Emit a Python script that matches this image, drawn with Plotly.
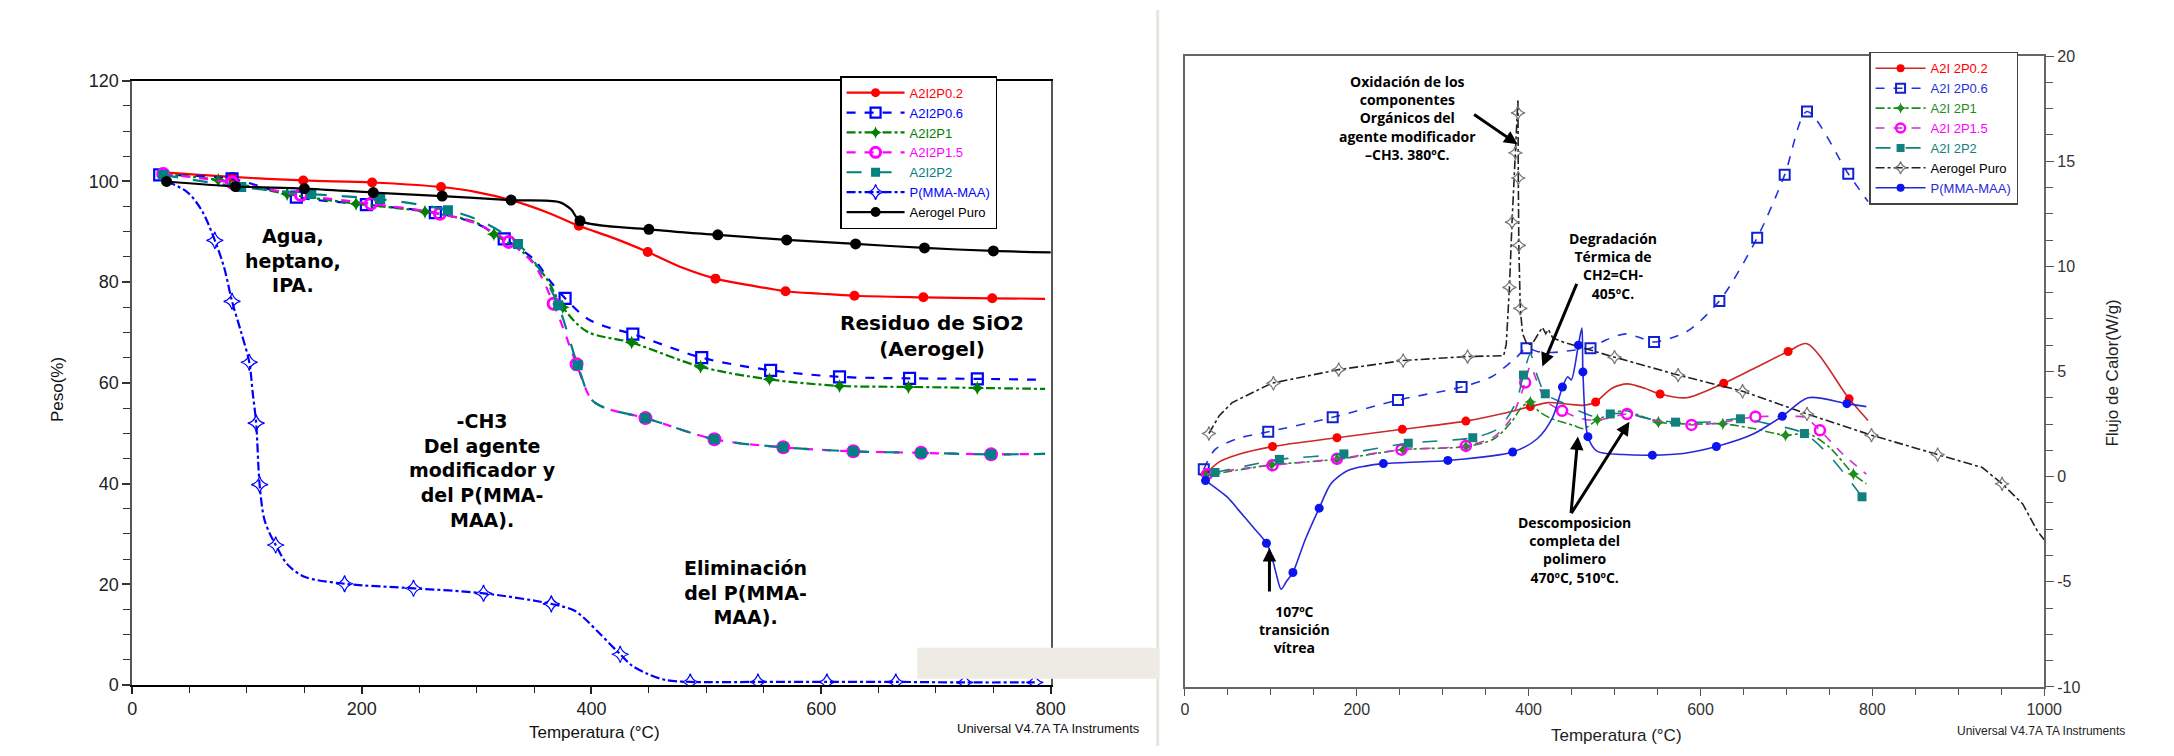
import plotly.graph_objects as go

W, H = 2174, 756

# ======================= TGA (left panel) data =======================
tga_names = ["A2I2P0.2", "A2I2P0.6", "A2I2P1", "A2I2P1.5", "A2I2P2", "P(MMA-MAA)", "Aerogel Puro"]

tga_p02_T = [27, 87, 149, 209, 269, 300, 330, 360, 389, 420, 449, 480, 508, 540, 569, 600, 629, 689, 749, 795]
tga_p02_W = [101.8, 100.9, 100.2, 99.8, 98.9, 97.9, 96.3, 94.0, 91.2, 88.7, 86.0, 82.8, 80.7, 79.3, 78.2, 77.7, 77.3, 77.0, 76.8, 76.7]
tga_p02_mT = [27, 87, 149, 209, 269, 330, 389, 449, 508, 569, 629, 689, 749]
tga_p02_mW = [101.8, 100.9, 100.2, 99.8, 98.9, 96.3, 91.2, 86.0, 80.7, 78.2, 77.3, 77.0, 76.8]

tga_p06_T = [24, 87, 143, 204, 264, 300, 324, 350, 363, 377, 396, 412, 436, 496, 556, 616, 677, 736, 795]
tga_p06_W = [101.3, 100.5, 96.9, 95.4, 93.8, 91.6, 88.6, 84.5, 80.5, 76.8, 72.8, 71.2, 69.7, 65.0, 62.5, 61.2, 60.9, 60.8, 60.6]
tga_p06_mT = [24, 87, 143, 204, 264, 324, 377, 436, 496, 556, 616, 677, 736]
tga_p06_mW = [101.3, 100.5, 96.9, 95.4, 93.8, 88.6, 76.8, 69.7, 65.0, 62.5, 61.2, 60.9, 60.8]

tga_p1_T = [27, 75, 135, 195, 255, 300, 315, 340, 360, 375, 396, 435, 495, 555, 616, 676, 736, 795]
tga_p1_W = [101.5, 100.3, 97.5, 95.6, 94.0, 91.8, 89.5, 86.0, 81.0, 75.0, 70.2, 68.0, 63.2, 60.7, 59.4, 59.2, 59.0, 58.8]
tga_p1_mT = [75, 135, 195, 255, 315, 375, 435, 495, 555, 616, 676, 736]
tga_p1_mW = [100.3, 97.5, 95.6, 94.0, 89.5, 75.0, 68.0, 63.2, 60.7, 59.4, 59.2, 59.0]

tga_p15_T = [27, 87, 147, 208, 268, 300, 328, 350, 367, 387, 400, 412, 447, 507, 567, 628, 687, 748, 795]
tga_p15_W = [101.5, 99.8, 97.3, 95.6, 93.6, 91.6, 88.0, 83.5, 75.7, 63.7, 56.7, 55.0, 53.0, 48.8, 47.2, 46.4, 46.1, 45.8, 45.9]
tga_p15_mT = [27, 87, 147, 208, 268, 328, 367, 387, 447, 507, 567, 628, 687, 748]
tga_p15_mW = [101.5, 99.8, 97.3, 95.6, 93.6, 88.0, 75.7, 63.7, 53.0, 48.8, 47.2, 46.4, 46.1, 45.8]

tga_p2_T = [27, 95, 156, 216, 275, 305, 336, 355, 371, 388, 400, 412, 447, 507, 567, 628, 687, 748, 795]
tga_p2_W = [101.3, 98.9, 97.5, 96.5, 94.3, 92.0, 87.6, 82.5, 75.4, 63.5, 56.7, 55.0, 53.0, 48.8, 47.2, 46.4, 46.1, 45.8, 45.9]
tga_p2_mT = [27, 95, 156, 216, 275, 336, 371, 388, 447, 507, 567, 628, 687, 748]
tga_p2_mW = [101.3, 98.9, 97.5, 96.5, 94.3, 87.6, 75.4, 63.5, 53.0, 48.8, 47.2, 46.4, 46.1, 45.8]

tga_pm_T = [30, 48, 61, 72, 80, 87, 95, 102, 105, 108, 111, 115, 120, 125, 135, 150, 185, 245, 306, 365, 385, 394, 405, 418, 425, 435, 449, 464, 486, 545, 605, 665, 725, 786]
tga_pm_W = [100.0, 97.9, 94.1, 88.3, 83.0, 76.2, 70.0, 64.1, 58.0, 52.0, 39.8, 33.0, 30.0, 27.8, 24.0, 21.5, 20.1, 19.2, 18.2, 16.1, 14.8, 13.2, 10.7, 7.7, 6.1, 3.9, 2.2, 1.0, 0.6, 0.6, 0.6, 0.6, 0.5, 0.5]
tga_pm_mT = [72, 87, 102, 108, 111, 125, 185, 245, 306, 365, 425, 486, 545, 605, 665, 725, 786]
tga_pm_mW = [88.3, 76.2, 64.1, 52.0, 39.8, 27.8, 20.1, 19.2, 18.2, 16.1, 6.1, 0.6, 0.6, 0.6, 0.6, 0.5, 0.5]

tga_ae_T = [30, 90, 150, 210, 270, 330, 372, 382, 390, 450, 510, 570, 630, 690, 750, 800]
tga_ae_W = [100.0, 99.0, 98.6, 97.8, 97.1, 96.3, 95.9, 94.5, 92.2, 90.5, 89.4, 88.4, 87.6, 86.8, 86.2, 85.9]
tga_ae_mT = [30, 90, 150, 210, 270, 330, 390, 450, 510, 570, 630, 690, 750]
tga_ae_mW = [100.0, 99.0, 98.6, 97.8, 97.1, 96.3, 92.2, 90.5, 89.4, 88.4, 87.6, 86.8, 86.2]

# ======================= DSC (right panel) data =======================
dsc_names = ["A2I 2P0.2", "A2I 2P0.6", "A2I 2P1", "A2I 2P1.5", "A2I 2P2", "Aerogel Puro", "P(MMA-MAA)"]

dsc_p02_T = [24, 40, 62, 102, 177, 253, 327, 370, 402, 423, 445, 465, 478, 497, 515, 535, 553, 584, 627, 665, 702, 724, 773, 795]
dsc_p02_F = [0.12, 0.7, 1.05, 1.43, 1.85, 2.25, 2.64, 3.0, 3.33, 3.52, 3.45, 3.39, 3.55, 4.2, 4.41, 4.2, 3.93, 3.75, 4.44, 5.2, 5.95, 6.32, 3.70, 2.67]
dsc_p02_mT = [24, 102, 177, 253, 327, 402, 478, 553, 627, 702, 773]
dsc_p02_mF = [0.12, 1.43, 1.85, 2.25, 2.64, 3.33, 3.55, 3.93, 4.44, 5.95, 3.70]

dsc_p06_T = [22, 35, 62, 97, 172, 248, 322, 357, 386, 397.5, 410, 427, 450, 472, 490, 513, 530, 546, 584, 622, 666, 698, 724, 772, 795]
dsc_p06_F = [0.35, 1.28, 1.82, 2.13, 2.82, 3.64, 4.26, 4.75, 5.68, 6.11, 5.95, 5.9, 6.0, 6.11, 6.5, 6.79, 6.6, 6.4, 6.9, 8.35, 11.36, 14.35, 17.36, 14.4, 13.08]
dsc_p06_mT = [22, 97, 172, 248, 322, 397.5, 472, 546, 622, 666, 698, 724, 772]
dsc_p06_mF = [0.35, 2.13, 2.82, 3.64, 4.26, 6.11, 6.11, 6.40, 8.35, 11.36, 14.35, 17.36, 14.4]

dsc_p1_T = [24, 60, 101, 177, 254, 327, 360, 380, 392, 402, 412, 427, 452, 464, 480, 500, 513, 530, 551, 590, 626, 660, 699, 725, 750, 778, 793]
dsc_p1_F = [0.05, 0.3, 0.56, 0.82, 1.28, 1.43, 1.8, 2.6, 3.3, 3.55, 3.1, 2.75, 2.44, 2.28, 2.7, 3.05, 3.13, 2.9, 2.59, 2.5, 2.51, 2.3, 1.97, 2.05, 1.4, 0.12, -0.34]
dsc_p1_mT = [24, 101, 177, 254, 327, 402, 480, 551, 626, 699, 778]
dsc_p1_mF = [0.05, 0.56, 0.82, 1.28, 1.43, 3.55, 2.7, 2.59, 2.51, 1.97, 0.12]

dsc_p15_T = [26, 60, 102, 177, 252, 327, 360, 380, 392, 396, 402, 410, 420, 439, 458, 476, 495, 514.5, 540, 565, 589.5, 620, 664, 700, 721.5, 739, 765, 793]
dsc_p15_F = [0.12, 0.35, 0.54, 0.85, 1.28, 1.46, 1.9, 2.8, 4.0, 4.47, 5.25, 4.5, 3.6, 3.13, 2.8, 2.67, 2.8, 2.98, 2.75, 2.55, 2.46, 2.55, 2.85, 2.85, 2.82, 2.2, 1.1, 0.12]
dsc_p15_mT = [26, 102, 177, 252, 327, 396, 439, 514.5, 589.5, 664, 739]
dsc_p15_mF = [0.12, 0.54, 0.85, 1.28, 1.46, 4.47, 3.13, 2.98, 2.46, 2.85, 2.2]

dsc_p2_T = [35, 70, 110, 185, 260, 335, 365, 385, 394, 402, 410, 419.4, 440, 460, 478, 495, 515, 540, 571, 610, 646.5, 680, 721, 750, 788]
dsc_p2_F = [0.2, 0.5, 0.82, 1.08, 1.59, 1.85, 2.3, 3.5, 4.83, 5.83, 4.8, 3.94, 3.5, 3.1, 2.85, 2.98, 3.0, 2.75, 2.59, 2.6, 2.75, 2.5, 2.05, 1.0, -0.96]
dsc_p2_mT = [35, 110, 185, 260, 335, 394, 419.4, 495, 571, 646.5, 721, 788]
dsc_p2_mF = [0.2, 0.82, 1.08, 1.59, 1.85, 4.83, 3.94, 2.98, 2.59, 2.75, 2.05, -0.96]

dsc_ae_T = [28, 40, 55, 101, 179, 254, 328, 371, 374, 377.7, 380.7, 384.6, 387.6, 388.0, 388.6, 390.3, 393, 398, 404, 410, 416, 420, 423, 428, 440, 500, 574, 649, 724, 799, 876, 928, 951, 975, 992, 1000]
dsc_ae_F = [2.05, 2.9, 3.52, 4.44, 5.09, 5.52, 5.71, 5.75, 6.3, 9.0, 12.1, 15.4, 17.95, 14.2, 11.0, 8.0, 6.8, 6.3, 6.3, 6.7, 7.1, 6.8, 7.0, 6.6, 6.4, 5.68, 4.83, 4.06, 2.98, 1.97, 1.05, 0.43, -0.34, -1.3, -2.58, -3.0]
dsc_ae_mT = [28, 103, 179, 254, 329, 377.7, 380.7, 384.6, 387.7, 388.0, 388.6, 390.3, 500, 574, 649, 724, 799, 876, 951]
dsc_ae_mF = [2.05, 4.44, 5.09, 5.52, 5.71, 9.0, 12.1, 15.4, 17.3, 14.2, 11.0, 8.0, 5.68, 4.83, 4.06, 2.98, 1.97, 1.05, -0.34]

dsc_pm_T = [24, 50, 62, 81.5, 95, 100.7, 106.5, 112, 118, 125.7, 140, 156.3, 170, 189, 210, 231, 306, 381.5, 410, 428, 439.4, 445.5, 449.6, 457.9, 462, 463.2, 469, 480, 510, 544, 580, 618.5, 660, 695.2, 725.3, 770.4, 793]
dsc_pm_F = [-0.19, -1.0, -1.57, -2.5, -3.17, -3.74, -4.66, -5.36, -5.0, -4.56, -3.0, -1.5, -0.34, 0.28, 0.5, 0.62, 0.77, 1.17, 1.8, 2.82, 4.26, 4.75, 4.6, 6.25, 7.07, 4.98, 1.9, 1.2, 1.05, 1.02, 1.1, 1.43, 2.0, 2.87, 3.75, 3.47, 3.33]
dsc_pm_mT = [24, 94.9, 125.7, 156.3, 231, 306, 381.5, 439.4, 457.9, 463.2, 469, 544, 618.5, 695.2, 770.4]
dsc_pm_mF = [-0.19, -3.17, -4.56, -1.5, 0.62, 0.77, 1.17, 4.26, 6.25, 4.98, 1.9, 1.02, 1.43, 2.87, 3.47]

# ======================= styles =======================
tga_series = [
    (tga_p02_T, tga_p02_W, tga_p02_mT, tga_p02_mW),
    (tga_p06_T, tga_p06_W, tga_p06_mT, tga_p06_mW),
    (tga_p1_T, tga_p1_W, tga_p1_mT, tga_p1_mW),
    (tga_p15_T, tga_p15_W, tga_p15_mT, tga_p15_mW),
    (tga_p2_T, tga_p2_W, tga_p2_mT, tga_p2_mW),
    (tga_pm_T, tga_pm_W, tga_pm_mT, tga_pm_mW),
    (tga_ae_T, tga_ae_W, tga_ae_mT, tga_ae_mW),
]
tga_styles = [
    dict(lc="#FF0000", dash="solid", sym="circle", mc="#FF0000", ms=10, mlw=0, tc="#FF0000"),
    dict(lc="#0000FF", dash="dash", sym="square-open", mc="#0000FF", ms=11, mlw=2.2, tc="#0000FF"),
    dict(lc="#008000", dash="dashdot", sym="star-diamond", mc="#008000", ms=10, mlw=0, tc="#008000"),
    dict(lc="#FF00FF", dash="dash", sym="circle-open", mc="#FF00FF", ms=11, mlw=3, tc="#FF00FF"),
    dict(lc="#008080", dash="longdash", sym="square", mc="#008080", ms=10, mlw=0, tc="#008080"),
    dict(lc="#0000FF", dash="dashdot", sym="star-diamond-open", mc="#0000FF", ms=12, mlw=1.2, tc="#0000FF"),
    dict(lc="#000000", dash="solid", sym="circle", mc="#000000", ms=11, mlw=0, tc="#000000"),
]

dsc_series = [
    (dsc_p02_T, dsc_p02_F, dsc_p02_mT, dsc_p02_mF),
    (dsc_p06_T, dsc_p06_F, dsc_p06_mT, dsc_p06_mF),
    (dsc_p1_T, dsc_p1_F, dsc_p1_mT, dsc_p1_mF),
    (dsc_p15_T, dsc_p15_F, dsc_p15_mT, dsc_p15_mF),
    (dsc_p2_T, dsc_p2_F, dsc_p2_mT, dsc_p2_mF),
    (dsc_ae_T, dsc_ae_F, dsc_ae_mT, dsc_ae_mF),
    (dsc_pm_T, dsc_pm_F, dsc_pm_mT, dsc_pm_mF),
]
dsc_styles = [
    dict(lc="#CC2A2A", dash="solid", sym="circle", mc="#FF0000", ms=9, mlw=0, tc="#FF0000", shape="spline"),
    dict(lc="#2233DD", dash="dash", sym="square-open", mc="#1122CC", ms=10, mlw=2, tc="#2233DD", shape="spline"),
    dict(lc="#1E8C1E", dash="dashdot", sym="star-diamond", mc="#1E8C1E", ms=9, mlw=0, tc="#1E8C1E", shape="spline"),
    dict(lc="#CC33CC", dash="dash", sym="circle-open", mc="#FF00FF", ms=10, mlw=2.5, tc="#FF00FF", shape="spline"),
    dict(lc="#138080", dash="longdash", sym="square", mc="#138080", ms=9, mlw=0, tc="#138080", shape="spline"),
    dict(lc="#222222", dash="dashdot", sym="star-diamond-open", mc="#777777", ms=10, mlw=1.2, tc="#000000", shape="linear"),
    dict(lc="#2828D8", dash="solid", sym="circle", mc="#0A14F0", ms=9, mlw=0, tc="#2828D8", shape="spline"),
]

fig = go.Figure()

def add_series(series, styles, names, xa, ya, legend, lw, smooth):
    for (T, V, mT, mV), st, nm in zip(series, styles, names):
        shape = st.get("shape", "spline")
        fig.add_trace(go.Scatter(
            x=T, y=V, mode="lines", xaxis=xa, yaxis=ya, showlegend=False,
            line=dict(color=st["lc"], width=lw, dash=st["dash"], shape=shape, smoothing=smooth),
            hoverinfo="skip"))
        fig.add_trace(go.Scatter(
            x=mT, y=mV, mode="markers", xaxis=xa, yaxis=ya, showlegend=False,
            marker=dict(symbol=st["sym"], size=st["ms"], color=st["mc"],
                        line=dict(color=st["mc"], width=st["mlw"]))))
        # legend entry
        fig.add_trace(go.Scatter(
            x=[-9999], y=[-9999], mode="lines+markers", xaxis=xa, yaxis=ya, legend=legend,
            name="<span style='color:%s'>%s</span>" % (st["tc"], nm),
            line=dict(color=st["lc"], width=lw, dash=st["dash"]),
            marker=dict(symbol=st["sym"], size=st["ms"] - 1, color=st["mc"],
                        line=dict(color=st["mc"], width=st["mlw"]))))

add_series(tga_series, tga_styles, tga_names, "x", "y", "legend", 2.2, 0.9)
add_series(dsc_series, dsc_styles, dsc_names, "x2", "y2", "legend2", 1.6, 0.8)

def fx(p):
    return p / W

def fy(p):
    return 1 - p / H

axfont = dict(family="Liberation Sans, Arial", size=18, color="#222")
axfont2 = dict(family="Liberation Sans, Arial", size=16, color="#333")

fig.update_layout(
    width=W, height=H, margin=dict(l=0, r=0, t=0, b=0),
    paper_bgcolor="white", plot_bgcolor="white",
    showlegend=True,
    xaxis=dict(domain=[fx(128.5), fx(1057)], range=[0, 800], anchor="y",
               tickvals=[0, 200, 400, 600, 800], ticks="outside", ticklen=7, tickwidth=1.5, tickcolor="#222",
               minor=dict(dtick=50, ticks="outside", ticklen=6, tickwidth=1.2, tickcolor="#222"),
               showline=True, linecolor="black", linewidth=1.6, mirror=True,
               showgrid=False, zeroline=False, tickfont=axfont),
    yaxis=dict(domain=[fy(693.3), fy(72.7)], range=[0, 120], anchor="x",
               tickvals=[0, 20, 40, 60, 80, 100, 120], ticks="outside", ticklen=8, tickwidth=1.5, tickcolor="#333",
               minor=dict(dtick=5, ticks="outside", ticklen=7, tickwidth=1.2, tickcolor="#333"),
               showline=True, linecolor="#555", linewidth=1.6, mirror=True,
               showgrid=False, zeroline=False, tickfont=axfont),
    xaxis2=dict(domain=[fx(1192.5), fx(2061)], range=[0, 1000], anchor="y2",
                tickvals=[0, 200, 400, 600, 800, 1000], ticks="outside", ticklen=7, tickwidth=1.3, tickcolor="#555",
                minor=dict(dtick=50, ticks="outside", ticklen=6, tickwidth=1.1, tickcolor="#555"),
                showline=True, linecolor="#666", linewidth=1.8, mirror=True,
                showgrid=False, zeroline=False, tickfont=axfont2),
    yaxis2=dict(domain=[fy(695.3), fy(47.3)], range=[-10, 20], anchor="x2", side="right",
                tickvals=[-10, -5, 0, 5, 10, 15, 20], ticktext=["-10", "-5", "0", "5", "10", "15", "20"],
                ticks="outside", ticklen=8, tickwidth=1.3, tickcolor="#555",
                minor=dict(dtick=1.25, ticks="outside", ticklen=7, tickwidth=1.1, tickcolor="#555"),
                showline=True, linecolor="#666", linewidth=1.8, mirror=True,
                showgrid=False, zeroline=False, tickfont=axfont2),
    legend=dict(x=fx(844), xanchor="left", y=fy(68), yanchor="top", bgcolor="white",
                bordercolor="black", borderwidth=1.5, itemwidth=58, tracegroupgap=0, traceorder="normal",
                font=dict(family="Liberation Sans, Arial", size=13, color="black"),
                itemclick=False, itemdoubleclick=False),
    legend2=dict(x=fx(1884), xanchor="left", y=fy(43), yanchor="top", bgcolor="white",
                 bordercolor="#444", borderwidth=1.5, itemwidth=50, tracegroupgap=0, traceorder="normal",
                 font=dict(family="Liberation Sans, Arial", size=13, color="black"),
                 itemclick=False, itemdoubleclick=False),
)

ann = []
def text(x, y, t, size, family, color="black", angle=0):
    ann.append(dict(x=fx(x), y=fy(y), xref="paper", yref="paper", text=t, showarrow=False,
                    xanchor="center", yanchor="middle", align="center", textangle=angle,
                    font=dict(family=family, size=size, color=color)))

BOLD_L = "DejaVu Sans"
BOLD_R = "Open Sans"
text(291, 257, "<b>Agua,<br>heptano,<br>IPA.</b>", 19, BOLD_L)
text(483, 473, "<b>-CH3<br>Del agente<br>modificador y<br>del P(MMA-<br>MAA).</b>", 19, BOLD_L)
text(748, 598, "<b>Eliminación<br>del P(MMA-<br>MAA).</b>", 19, BOLD_L)
text(937, 335, "<b>Residuo de SiO2<br>(Aerogel)</b>", 20, BOLD_L)

text(1418, 111, "<b>Oxidación de los<br>componentes<br>Orgánicos del<br>agente modificador<br>–CH3. 380ºC.</b>", 14, BOLD_R)
text(1625, 263, "<b>Degradación<br>Térmica de<br>CH2=CH-<br>405ºC.</b>", 14, BOLD_R)
text(1303, 636, "<b>107ºC<br>transición<br>vítrea</b>", 14, BOLD_R)
text(1586, 555, "<b>Descomposicion<br>completa del<br>polimero<br>470ºC, 510ºC.</b>", 14, BOLD_R)

text(53, 390, "Peso(%)", 17, "Liberation Sans, Arial", "#111", -90)
text(596, 742, "Temperatura (°C)", 17, "Liberation Sans, Arial", "#111")
text(1629, 745, "Temperatura (°C)", 17, "Liberation Sans, Arial", "#222")
text(2130, 373, "Flujo de Calor(W/g)", 17, "Liberation Sans, Arial", "#222", -90)
text(1055, 738, "Universal V4.7A TA Instruments", 13, "Liberation Sans, Arial", "#111")
text(2058, 741, "Universal V4.7A TA Instruments", 12, "Liberation Sans, Arial", "#222")

def arrow(tx, ty, ax, ay):
    ann.append(dict(x=tx, y=ty, xref="x2", yref="y2", ax=ax, ay=ay, axref="pixel", ayref="pixel",
                    text="", showarrow=True, arrowhead=2, arrowsize=0.9, arrowwidth=3, arrowcolor="black"))

arrow(387.2, 15.8, -45, -31)
arrow(416, 5.24, 35, -84)
arrow(98.4, -3.40, 0, 45)
arrow(457.4, 1.91, -7, 78)
arrow(517.3, 2.61, -59, 93)

fig.update_layout(annotations=ann)

fig.update_layout(shapes=[
    dict(type="line", xref="paper", yref="paper", x0=fx(1165), x1=fx(1165), y0=0, y1=1,
         line=dict(color="#E6E6DE", width=3), layer="below"),
    dict(type="rect", xref="paper", yref="paper", x0=fx(922), x1=fx(1167), y0=fy(687), y1=fy(655),
         fillcolor="#EDEBE3", line=dict(width=0), layer="above"),
])

fig.write_html("out.html", config={"displayModeBar": False},
               post_script="document.body.style.margin='0';document.body.style.overflow='hidden';")
